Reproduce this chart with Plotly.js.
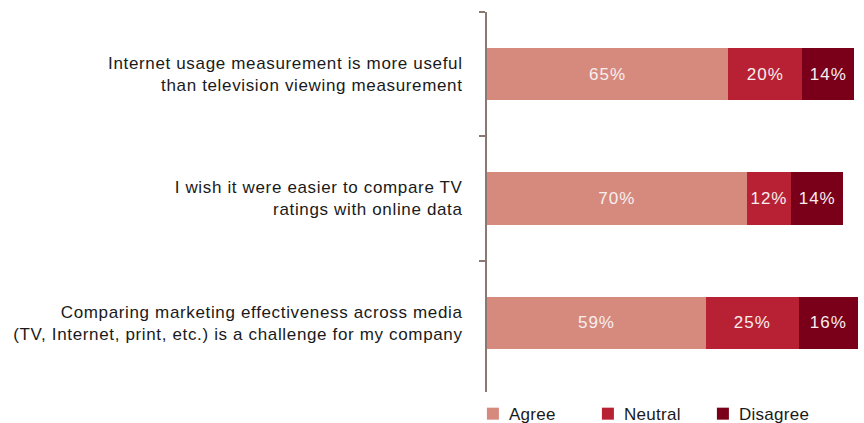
<!DOCTYPE html>
<html><head><meta charset="utf-8">
<script src="https://cdn.plot.ly/plotly-3.0.1.min.js"></script>
<style>
html,body{margin:0;padding:0;background:#fff}#c{width:864px;height:423px}
#c .ytick text{letter-spacing:0.65px}
#c .bartext text, #c text.bartext{letter-spacing:1px}
#c .legendtext{letter-spacing:0.3px;transform:translateX(-4px)}
</style>
</head><body><div id="c"></div>
<script>
const categories = [
  "Internet usage measurement is more useful<br>than television viewing measurement",
  "I wish it were easier to compare TV<br>ratings with online data",
  "Comparing marketing effectiveness across media<br>(TV, Internet, print, etc.) is a challenge for my company"
];
const agree = [65, 70, 59];
const neutral = [20, 12, 25];
const disagree = [14, 14, 16];
const seriesNames = ["Agree", "Neutral", "Disagree"];
const colors = ["#D68A7E", "#B82033", "#7A0019"];

const vals = [agree, neutral, disagree];
const traces = vals.map((v, i) => ({
  type: 'bar', orientation: 'h', name: seriesNames[i],
  y: categories, x: v,
  marker: {color: colors[i], line: {width: 0}},
  text: v.map(d => d + '%'), textposition: 'inside', insidetextanchor: 'middle',
  textfont: {family: 'Liberation Sans, Arial, sans-serif', size: 17, color: '#f8eeee'},
  hoverinfo: 'none', width: 0.42
}));

const layout = {
  width: 864, height: 423,
  margin: {l: 487, r: 6, t: 12, b: 38, autoexpand: false},
  barmode: 'stack', showlegend: true,
  paper_bgcolor: '#fff', plot_bgcolor: '#fff',
  font: {family: 'Liberation Sans, Arial, sans-serif', color: '#1a1a1a', size: 17},
  xaxis: {range: [0, 100], visible: false, fixedrange: true},
  yaxis: {
    type: 'category', range: [2.5, -0.5], showgrid: false, zeroline: false,
    showline: true, linecolor: '#8a7872', linewidth: 2,
    ticks: 'outside', tickson: 'boundaries', ticklen: 6, tickwidth: 2, tickcolor: '#8a7872',
    ticklabelstandoff: 19,
    tickfont: {size: 17, color: '#1a1a1a'}
  },
  shapes: [{
    type: 'line', xref: 'paper', yref: 'paper',
    xsizemode: 'pixel', xanchor: 0, x0: -1, x1: -1,
    ysizemode: 'pixel', yanchor: 0, y0: 1, y1: -7,
    line: {color: '#8a7872', width: 2}
  }],
  legend: {
    orientation: 'h', x: -0.038, xanchor: 'left', yref: 'container', y: 0.021, yanchor: 'middle',
    entrywidth: 70, entrywidthmode: 'pixels',
    font: {size: 17, color: '#1a1a1a'}, traceorder: 'normal', itemclick: false
  }
};
Plotly.newPlot('c', traces, layout, {displayModeBar: false, staticPlot: true});
</script></body></html>
